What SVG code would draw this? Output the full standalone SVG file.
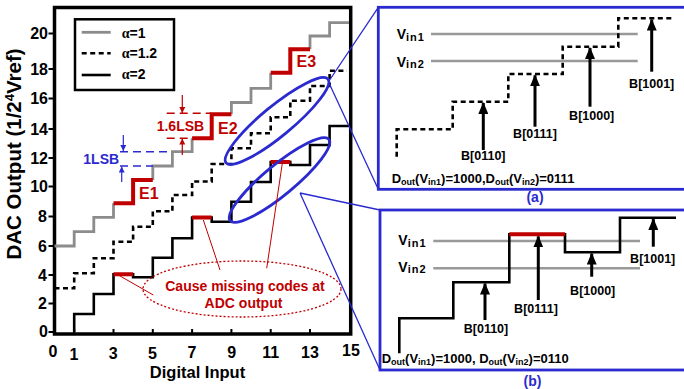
<svg xmlns="http://www.w3.org/2000/svg" width="684" height="389" viewBox="0 0 684 389">
<style>
text{font-family:"Liberation Sans",Arial,sans-serif;font-weight:bold;fill:#000}
.tk{font-size:16px}
.xl{font-size:16px;text-anchor:middle}
.red{fill:#c00000}
.blu{fill:#2a2ad0}
.gray{fill:none;stroke:#8c8c8c;stroke-width:2.8}
.blk{fill:none;stroke:#000;stroke-width:2.6}
.dsh{fill:none;stroke:#000;stroke-width:2.6;stroke-dasharray:5,3.5}
.rseg{fill:none;stroke:#c00000;stroke-width:4}
.bl{font-size:12.5px;text-anchor:middle}
.pn{font-size:13px}
.sub{font-size:9px}
.arr{stroke:#000;stroke-width:3;fill:none}
.vin{stroke:#999;stroke-width:2.5;fill:none}
.box{fill:none;stroke:#2a2ad0;stroke-width:2.8}
.ell{fill:none;stroke:#2a2ad0;stroke-width:2.8}
.conn{fill:none;stroke:#2a2ad0;stroke-width:1.3}
</style>
<defs>
<marker id="ah" markerWidth="12" markerHeight="10" refX="11" refY="5" orient="auto" markerUnits="userSpaceOnUse" viewBox="0 0 12 10"><path d="M0,0 L12,5 L0,10 z" fill="#000"/></marker>
<marker id="ahb" markerWidth="6" markerHeight="6" refX="6" refY="3" orient="auto" markerUnits="userSpaceOnUse" viewBox="0 0 6 6"><path d="M0,0 L6,3 L0,6 z" fill="#2a2ad0"/></marker>
<marker id="ahr" markerWidth="6" markerHeight="6" refX="6" refY="3" orient="auto" markerUnits="userSpaceOnUse" viewBox="0 0 6 6"><path d="M0,0 L6,3 L0,6 z" fill="#c00000"/></marker>
</defs>
<rect width="684" height="389" fill="#fff"/>

<g id="axes">
<rect x="54.5" y="7.5" width="296.2" height="326.5" fill="none" stroke="#000" stroke-width="3.5"/>
<path d="M48.5,33.5H54.5M48.5,69H54.5M48.5,98.5H54.5M48.5,129H54.5M48.5,158H54.5M48.5,186.5H54.5M48.5,216.5H54.5M48.5,246H54.5M48.5,275H54.5M48.5,303.5H54.5M48.5,332H54.5" stroke="#000" stroke-width="2"/>
<path d="M74.2,334V329M113.5,334V329M152.8,334V329M192.1,334V329M231.4,334V329M270.7,334V329M310,334V329" stroke="#000" stroke-width="2"/>
<g class="tk" text-anchor="end">
<text x="48" y="39">20</text>
<text x="48" y="74.5">18</text>
<text x="48" y="104">16</text>
<text x="48" y="134.5">14</text>
<text x="48" y="163.5">12</text>
<text x="48" y="192">10</text>
<text x="47" y="222">8</text>
<text x="47" y="251.5">6</text>
<text x="47" y="280.5">4</text>
<text x="47" y="309">2</text>
<text x="48" y="337">0</text>
</g>
<text class="xl" x="53" y="356.7">0</text>
<text class="xl" x="74" y="359.5">1</text>
<text class="xl" x="113.3" y="358.5">3</text>
<text class="xl" x="152.5" y="358.5">5</text>
<text class="xl" x="192" y="357.5">7</text>
<text class="xl" x="231.7" y="357.5">9</text>
<text class="xl" x="270.7" y="357.5">11</text>
<text class="xl" x="310" y="357.5">13</text>
<text class="xl" x="351" y="355.5">15</text>
<text x="197.5" y="378" font-size="16.5" text-anchor="middle">Digital Input</text>
<text transform="translate(21,154) rotate(-90)" font-size="20.5" text-anchor="middle">DAC Output (1/2<tspan dy="-7" font-size="13">4</tspan><tspan dy="7">Vref)</tspan></text>
</g>

<g id="legend">
<rect x="75" y="19.3" width="99" height="70.7" fill="#fff" stroke="#000" stroke-width="2.5"/>
<path class="gray" d="M81.7,32.3H110.7"/>
<path class="dsh" d="M81.7,53.3H110.7"/>
<path class="blk" d="M81.7,75H110.7" stroke-width="3"/>
<text x="121.7" y="37.5" font-size="14"><tspan font-family="Liberation Serif,serif">α</tspan>=1</text>
<text x="121.7" y="58" font-size="14"><tspan font-family="Liberation Serif,serif">α</tspan>=1.2</text>
<text x="121.7" y="79" font-size="14"><tspan font-family="Liberation Serif,serif">α</tspan>=2</text>
</g>

<g id="curve-alpha1">
<path class="gray" d="M54.5,246H74.2V231.7H93.8V217.3H113.5V203.3M152.8,180V166H172.4V151.7H192.1V138.3M231.4,114.3V102.5H251V88.3H270.7V72.7M310,49.3V36H329.6V22.7H349"/>
<path class="rseg" d="M113.5,203.3H133.1V180H152.8M192.1,138.3H211.7V114.3H231.4M270.7,72.7H290.3V49.3H310"/>
<text class="red" x="139" y="198.5" font-size="16">E1</text>
<text class="red" x="218" y="133.5" font-size="16">E2</text>
<text class="red" x="296.5" y="66.7" font-size="16">E3</text>
</g>

<g id="curve-alpha12">
<path class="dsh" d="M54.5,288.3H74.2V273.3H93.8V258.3H113.5V241.7H133.1V226.7H152.8V211.3H172.4V195H192.1V181.5H211.7V164H231.4V148.3H251V133.3H270.7V117.3H290.3V100.7H310V86H329.6V70.7H347"/>
</g>

<g id="curve-alpha2">
<path class="blk" d="M74.2,332V314H93.8V294H113.5V274.3H133.1V277.3H152.8V257.7H172.4V238.3H192.1V217.5H211.7V221.7H231.4V201.7H251V182H270.7V162H290.3V165H310V145H329.6V126H349"/>
<path class="rseg" d="M113.5,274.3H133.1M192.1,217.5H211.7M270.7,162H290.3"/>
</g>

<g id="lsb-annotations">
<path d="M120,151.7H172M120,166H153" stroke="#2a2ad0" stroke-width="1.5" stroke-dasharray="8,5" fill="none"/>
<path d="M123.3,135V151" stroke="#2a2ad0" stroke-width="1.2" marker-end="url(#ahb)"/>
<path d="M121.7,182V166.5" stroke="#2a2ad0" stroke-width="1.2" marker-end="url(#ahb)"/>
<text class="blu" x="83.3" y="163.5" font-size="14">1LSB</text>
<path d="M166.7,113.3H211M166.7,138.3H192" stroke="#c00000" stroke-width="1.5" stroke-dasharray="8,5" fill="none"/>
<path d="M182.3,95V113" stroke="#c00000" stroke-width="1.2" marker-end="url(#ahr)"/>
<path d="M182.3,155V138.6" stroke="#c00000" stroke-width="1.2" marker-end="url(#ahr)"/>
<text class="red" x="156.7" y="131" font-size="14">1.6LSB</text>
</g>

<g id="missing-codes-note">
<ellipse cx="242" cy="289" rx="99" ry="28" fill="none" stroke="#c00000" stroke-width="1.3" stroke-dasharray="2,2"/>
<text class="red" x="245" y="291" font-size="14" text-anchor="middle">Cause missing codes at</text>
<text class="red" x="243.5" y="307.5" font-size="14" text-anchor="middle">ADC output</text>
</g>

<g id="ellipses">
<ellipse class="ell" cx="277" cy="121" rx="66" ry="15" transform="rotate(-39.5 277 121)"/>
<ellipse class="ell" cx="279.5" cy="180" rx="64" ry="15" transform="rotate(-39.5 279.5 180)"/>
</g>

<g id="connectors">
<path d="M118.3,275L153.3,295M203.3,220L220,270M282.5,162L266.7,268.3" stroke="#c00000" stroke-width="1" fill="none"/>
<path class="conn" d="M329,81L378.3,7.3M329,83L378.3,189.3M300,193L380,210M300,193L380,370"/>
</g>

<g id="panel-a">
<rect class="box" x="378.3" y="7.3" width="320" height="182"/>
<path class="vin" d="M431,34H637.7M431,61H637.7"/>
<text x="396.7" y="39.3" font-size="14">V<tspan font-size="11" dy="1.5" letter-spacing="1">in1</tspan></text>
<text x="396.7" y="66.7" font-size="14">V<tspan font-size="11" dy="1.5" letter-spacing="1">in2</tspan></text>
<path class="dsh" d="M396.7,156.7V129.3H452.7V101.7H508.3V74H562.7V46.7H618.3V18.3H671.7"/>
<path class="arr" d="M483.3,150V103" marker-end="url(#ah)"/>
<path class="arr" d="M535,126.7V75.3" marker-end="url(#ah)"/>
<path class="arr" d="M590,106.7V48" marker-end="url(#ah)"/>
<path class="arr" d="M651.7,71.7V19.6" marker-end="url(#ah)"/>
<text class="bl" x="483.3" y="160">B[0110]</text>
<text class="bl" x="535" y="138.3">B[0111]</text>
<text class="bl" x="591.7" y="120">B[1000]</text>
<text class="bl" x="651.7" y="88.3">B[1001]</text>
<text class="pn" x="391.7" y="183.3">D<tspan class="sub" dy="2">out</tspan><tspan dy="-2">(V</tspan><tspan class="sub" dy="2">in1</tspan><tspan dy="-2">)=1000,D</tspan><tspan class="sub" dy="2">out</tspan><tspan dy="-2">(V</tspan><tspan class="sub" dy="2">in2</tspan><tspan dy="-2">)=0111</tspan></text>
<text class="blu" x="535" y="202" font-size="14" text-anchor="middle">(a)</text>
</g>

<g id="panel-b">
<rect class="box" x="380" y="210" width="320" height="160"/>
<path class="vin" d="M433.3,241H640M433.3,268.3H640"/>
<text x="398.3" y="245" font-size="14">V<tspan font-size="11" dy="1.5" letter-spacing="1">in1</tspan></text>
<text x="398.3" y="271.7" font-size="14">V<tspan font-size="11" dy="1.5" letter-spacing="1">in2</tspan></text>
<path class="blk" d="M399.3,353.3V318.3H453.3V282.3H509.3V234.3H565V252.3H620V217.7H676"/>
<path class="rseg" d="M509.3,234.3H565"/>
<path class="arr" d="M485,320V283.6" marker-end="url(#ah)"/>
<path class="arr" d="M538.3,300V236.4" marker-end="url(#ah)"/>
<path class="arr" d="M591.7,276.7V253.6" marker-end="url(#ah)"/>
<path class="arr" d="M653.3,246.7V219" marker-end="url(#ah)"/>
<text class="bl" x="486" y="333.3">B[0110]</text>
<text class="bl" x="536" y="313.3">B[0111]</text>
<text class="bl" x="592.7" y="295">B[1000]</text>
<text class="bl" x="652.7" y="263.3">B[1001]</text>
<text class="pn" x="381.7" y="363.3">D<tspan class="sub" dy="2">out</tspan><tspan dy="-2">(V</tspan><tspan class="sub" dy="2">in1</tspan><tspan dy="-2">)=1000, D</tspan><tspan class="sub" dy="2">out</tspan><tspan dy="-2">(V</tspan><tspan class="sub" dy="2">in2</tspan><tspan dy="-2">)=0110</tspan></text>
<text class="blu" x="532.5" y="385.5" font-size="14" text-anchor="middle">(b)</text>
</g>
</svg>
